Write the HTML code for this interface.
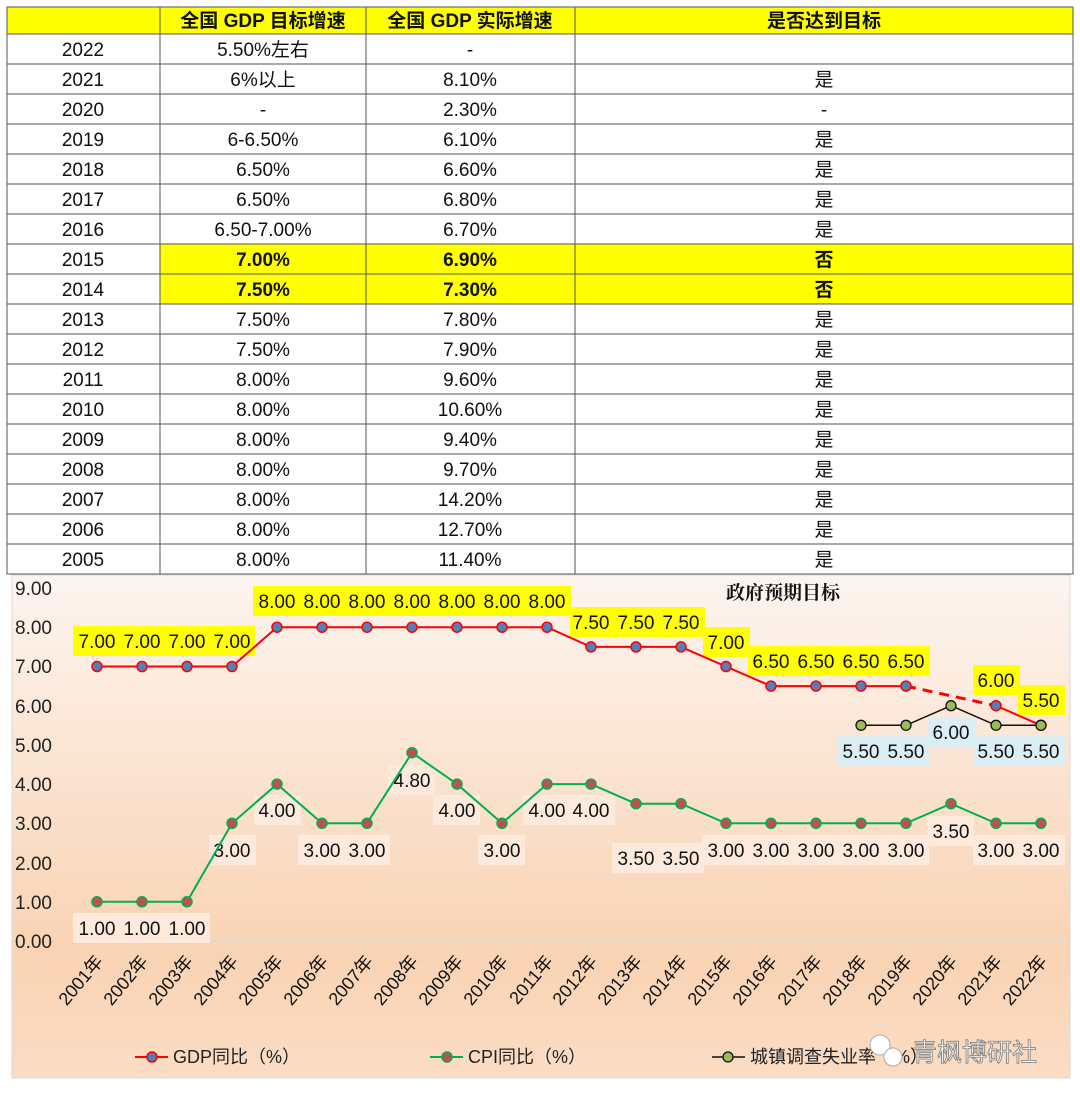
<!DOCTYPE html>
<html><head><meta charset="utf-8"><style>
body{margin:0;background:#fff;}
svg{display:block;font-family:"Liberation Sans","Noto Sans CJK SC",sans-serif;}
</style></head><body>
<svg width="1080" height="1099" viewBox="0 0 1080 1099">
<defs>
<linearGradient id="bg" x1="0" y1="0" x2="0" y2="1">
<stop offset="0" stop-color="#fdf5f0"/><stop offset="0.75" stop-color="#f9d3b3"/><stop offset="1" stop-color="#fbdcc4"/>
</linearGradient>
</defs>
<rect x="7" y="7" width="1066" height="27" fill="#ffff00"/>
<rect x="160" y="244" width="913" height="60" fill="#ffff00"/>
<g stroke="#555" stroke-width="1" fill="none">
<rect x="7" y="7" width="1066" height="567"/>
<line x1="160" y1="7" x2="160" y2="574"/><line x1="366" y1="7" x2="366" y2="574"/><line x1="575" y1="7" x2="575" y2="574"/>
<line x1="7" y1="34" x2="1073" y2="34"/><line x1="7" y1="64" x2="1073" y2="64"/><line x1="7" y1="94" x2="1073" y2="94"/><line x1="7" y1="124" x2="1073" y2="124"/><line x1="7" y1="154" x2="1073" y2="154"/><line x1="7" y1="184" x2="1073" y2="184"/><line x1="7" y1="214" x2="1073" y2="214"/><line x1="7" y1="244" x2="1073" y2="244"/><line x1="7" y1="274" x2="1073" y2="274"/><line x1="7" y1="304" x2="1073" y2="304"/><line x1="7" y1="334" x2="1073" y2="334"/><line x1="7" y1="364" x2="1073" y2="364"/><line x1="7" y1="394" x2="1073" y2="394"/><line x1="7" y1="424" x2="1073" y2="424"/><line x1="7" y1="454" x2="1073" y2="454"/><line x1="7" y1="484" x2="1073" y2="484"/><line x1="7" y1="514" x2="1073" y2="514"/><line x1="7" y1="544" x2="1073" y2="544"/>
</g>
<g font-size="19" fill="#111" text-anchor="middle">
<g font-weight="bold"><text x="263" y="27">全国 GDP 目标增速</text><text x="470" y="27">全国 GDP 实际增速</text><text x="824" y="27">是否达到目标</text></g>
<text x="83" y="56">2022</text><text x="263" y="56">5.50%左右</text><text x="470" y="56">-</text>
<text x="83" y="86">2021</text><text x="263" y="86">6%以上</text><text x="470" y="86">8.10%</text><text x="824" y="86">是</text>
<text x="83" y="116">2020</text><text x="263" y="116">-</text><text x="470" y="116">2.30%</text><text x="824" y="116">-</text>
<text x="83" y="146">2019</text><text x="263" y="146">6-6.50%</text><text x="470" y="146">6.10%</text><text x="824" y="146">是</text>
<text x="83" y="176">2018</text><text x="263" y="176">6.50%</text><text x="470" y="176">6.60%</text><text x="824" y="176">是</text>
<text x="83" y="206">2017</text><text x="263" y="206">6.50%</text><text x="470" y="206">6.80%</text><text x="824" y="206">是</text>
<text x="83" y="236">2016</text><text x="263" y="236">6.50-7.00%</text><text x="470" y="236">6.70%</text><text x="824" y="236">是</text>
<text x="83" y="266">2015</text><text x="263" y="266" font-weight="bold">7.00%</text><text x="470" y="266" font-weight="bold">6.90%</text><text x="824" y="266" font-weight="bold">否</text>
<text x="83" y="296">2014</text><text x="263" y="296" font-weight="bold">7.50%</text><text x="470" y="296" font-weight="bold">7.30%</text><text x="824" y="296" font-weight="bold">否</text>
<text x="83" y="326">2013</text><text x="263" y="326">7.50%</text><text x="470" y="326">7.80%</text><text x="824" y="326">是</text>
<text x="83" y="356">2012</text><text x="263" y="356">7.50%</text><text x="470" y="356">7.90%</text><text x="824" y="356">是</text>
<text x="83" y="386">2011</text><text x="263" y="386">8.00%</text><text x="470" y="386">9.60%</text><text x="824" y="386">是</text>
<text x="83" y="416">2010</text><text x="263" y="416">8.00%</text><text x="470" y="416">10.60%</text><text x="824" y="416">是</text>
<text x="83" y="446">2009</text><text x="263" y="446">8.00%</text><text x="470" y="446">9.40%</text><text x="824" y="446">是</text>
<text x="83" y="476">2008</text><text x="263" y="476">8.00%</text><text x="470" y="476">9.70%</text><text x="824" y="476">是</text>
<text x="83" y="506">2007</text><text x="263" y="506">8.00%</text><text x="470" y="506">14.20%</text><text x="824" y="506">是</text>
<text x="83" y="536">2006</text><text x="263" y="536">8.00%</text><text x="470" y="536">12.70%</text><text x="824" y="536">是</text>
<text x="83" y="566">2005</text><text x="263" y="566">8.00%</text><text x="470" y="566">11.40%</text><text x="824" y="566">是</text>
</g>
<rect x="12" y="575" width="1058" height="503" fill="url(#bg)" stroke="#d9d9d9"/>
<line x1="73" y1="941" x2="1065" y2="941" stroke="#d9d9d9" stroke-width="1.5"/>
<g font-size="19" fill="#222">
<text x="15" y="595">9.00</text><text x="15" y="634">8.00</text><text x="15" y="673">7.00</text><text x="15" y="713">6.00</text><text x="15" y="752">5.00</text><text x="15" y="791">4.00</text><text x="15" y="830">3.00</text><text x="15" y="870">2.00</text><text x="15" y="909">1.00</text><text x="15" y="948">0.00</text>
</g>
<text x="783" y="599" font-size="19" font-weight="bold" text-anchor="middle" fill="#111" font-family="Liberation Serif,'Noto Serif CJK SC',serif">政府预期目标</text>
<g fill="#ffff00">
<rect x="73" y="626" width="182" height="30"/><rect x="253" y="586" width="318" height="30"/><rect x="570" y="607" width="135" height="30"/><rect x="703" y="627" width="47" height="30"/><rect x="748" y="646" width="182" height="30"/><rect x="973" y="665" width="47" height="30"/><rect x="1018" y="685" width="47" height="30"/>
</g>
<g font-size="19" fill="#111" text-anchor="middle">
<text x="97" y="648">7.00</text><text x="142" y="648">7.00</text><text x="187" y="648">7.00</text><text x="232" y="648">7.00</text>
<text x="277" y="608">8.00</text><text x="322" y="608">8.00</text><text x="367" y="608">8.00</text><text x="412" y="608">8.00</text><text x="457" y="608">8.00</text><text x="502" y="608">8.00</text><text x="547" y="608">8.00</text>
<text x="591" y="629">7.50</text><text x="636" y="629">7.50</text><text x="681" y="629">7.50</text><text x="726" y="649">7.00</text>
<text x="771" y="668">6.50</text><text x="816" y="668">6.50</text><text x="861" y="668">6.50</text><text x="906" y="668">6.50</text>
<text x="996" y="687">6.00</text><text x="1041" y="707">5.50</text>
</g>
<g fill="#fdeadd">
<rect x="73" y="913" width="137" height="30"/><rect x="209" y="835" width="47" height="30"/><rect x="254" y="795" width="47" height="30"/><rect x="298" y="835" width="92" height="30"/><rect x="388" y="765" width="47" height="30"/><rect x="433" y="795" width="47" height="30"/><rect x="478" y="835" width="47" height="30"/><rect x="523" y="795" width="92" height="30"/><rect x="612" y="843" width="92" height="30"/><rect x="702" y="835" width="227" height="30"/><rect x="927" y="816" width="47" height="30"/><rect x="973" y="835" width="92" height="30"/>
</g>
<g font-size="19" fill="#111" text-anchor="middle">
<text x="97" y="935">1.00</text><text x="142" y="935">1.00</text><text x="187" y="935">1.00</text><text x="232" y="857">3.00</text><text x="277" y="817">4.00</text><text x="322" y="857">3.00</text><text x="367" y="857">3.00</text><text x="412" y="787">4.80</text><text x="457" y="817">4.00</text><text x="502" y="857">3.00</text><text x="547" y="817">4.00</text><text x="591" y="817">4.00</text><text x="636" y="865">3.50</text><text x="681" y="865">3.50</text><text x="726" y="857">3.00</text><text x="771" y="857">3.00</text><text x="816" y="857">3.00</text><text x="861" y="857">3.00</text><text x="906" y="857">3.00</text><text x="951" y="838">3.50</text><text x="996" y="857">3.00</text><text x="1041" y="857">3.00</text>
</g>
<g fill="#dbeef3"><rect x="838" y="736" width="92" height="30"/><rect x="928" y="717" width="47" height="30"/><rect x="973" y="736" width="92" height="30"/></g>
<g font-size="19" fill="#111" text-anchor="middle"><text x="861" y="758">5.50</text><text x="906" y="758">5.50</text><text x="951" y="739">6.00</text><text x="996" y="758">5.50</text><text x="1041" y="758">5.50</text></g>
<polyline fill="none" stroke="#ff0000" stroke-width="2" points="97,666.5 142,666.5 187,666.5 232,666.5 277,627.2 322,627.2 367,627.2 412,627.2 457,627.2 502,627.2 547,627.2 591,646.9 636,646.9 681,646.9 726,666.5 771,686.1 816,686.1 861,686.1 906,686.1"/>
<line x1="906" y1="686.1" x2="996" y2="705.7" stroke="#ff0000" stroke-width="3" stroke-dasharray="10,7"/>
<line x1="996" y1="705.7" x2="1041" y2="725.3" stroke="#ff0000" stroke-width="2"/>
<polyline fill="none" stroke="#00b050" stroke-width="2" points="97,901.8 142,901.8 187,901.8 232,823.3 277,784.1 322,823.3 367,823.3 412,752.7 457,784.1 502,823.3 547,784.1 591,784.1 636,803.7 681,803.7 726,823.3 771,823.3 816,823.3 861,823.3 906,823.3 951,803.7 996,823.3 1041,823.3"/>
<polyline fill="none" stroke="#111" stroke-width="1.5" points="861,725.3 906,725.3 951,705.7 996,725.3 1041,725.3"/>
<g fill="#4f81bd" stroke="#ff0000" stroke-width="1.5">
<circle cx="97" cy="666.5" r="5"/><circle cx="142" cy="666.5" r="5"/><circle cx="187" cy="666.5" r="5"/><circle cx="232" cy="666.5" r="5"/><circle cx="277" cy="627.2" r="5"/><circle cx="322" cy="627.2" r="5"/><circle cx="367" cy="627.2" r="5"/><circle cx="412" cy="627.2" r="5"/><circle cx="457" cy="627.2" r="5"/><circle cx="502" cy="627.2" r="5"/><circle cx="547" cy="627.2" r="5"/><circle cx="591" cy="646.9" r="5"/><circle cx="636" cy="646.9" r="5"/><circle cx="681" cy="646.9" r="5"/><circle cx="726" cy="666.5" r="5"/><circle cx="771" cy="686.1" r="5"/><circle cx="816" cy="686.1" r="5"/><circle cx="861" cy="686.1" r="5"/><circle cx="906" cy="686.1" r="5"/><circle cx="996" cy="705.7" r="5"/><circle cx="1041" cy="725.3" r="5"/>
</g>
<g fill="#c0504d" stroke="#00b050" stroke-width="1.5">
<circle cx="97" cy="901.8" r="5"/><circle cx="142" cy="901.8" r="5"/><circle cx="187" cy="901.8" r="5"/><circle cx="232" cy="823.3" r="5"/><circle cx="277" cy="784.1" r="5"/><circle cx="322" cy="823.3" r="5"/><circle cx="367" cy="823.3" r="5"/><circle cx="412" cy="752.7" r="5"/><circle cx="457" cy="784.1" r="5"/><circle cx="502" cy="823.3" r="5"/><circle cx="547" cy="784.1" r="5"/><circle cx="591" cy="784.1" r="5"/><circle cx="636" cy="803.7" r="5"/><circle cx="681" cy="803.7" r="5"/><circle cx="726" cy="823.3" r="5"/><circle cx="771" cy="823.3" r="5"/><circle cx="816" cy="823.3" r="5"/><circle cx="861" cy="823.3" r="5"/><circle cx="906" cy="823.3" r="5"/><circle cx="951" cy="803.7" r="5"/><circle cx="996" cy="823.3" r="5"/><circle cx="1041" cy="823.3" r="5"/>
</g>
<g fill="#9bbb59" stroke="#111" stroke-width="1.3">
<circle cx="861" cy="725.3" r="5"/><circle cx="906" cy="725.3" r="5"/><circle cx="951" cy="705.7" r="5"/><circle cx="996" cy="725.3" r="5"/><circle cx="1041" cy="725.3" r="5"/>
</g>
<g font-size="18" fill="#111" text-anchor="end">
<text transform="translate(104,962) rotate(-50)">2001年</text><text transform="translate(149,962) rotate(-50)">2002年</text><text transform="translate(194,962) rotate(-50)">2003年</text><text transform="translate(239,962) rotate(-50)">2004年</text><text transform="translate(284,962) rotate(-50)">2005年</text><text transform="translate(329,962) rotate(-50)">2006年</text><text transform="translate(374,962) rotate(-50)">2007年</text><text transform="translate(419,962) rotate(-50)">2008年</text><text transform="translate(464,962) rotate(-50)">2009年</text><text transform="translate(509,962) rotate(-50)">2010年</text><text transform="translate(554,962) rotate(-50)">2011年</text><text transform="translate(598,962) rotate(-50)">2012年</text><text transform="translate(643,962) rotate(-50)">2013年</text><text transform="translate(688,962) rotate(-50)">2014年</text><text transform="translate(733,962) rotate(-50)">2015年</text><text transform="translate(778,962) rotate(-50)">2016年</text><text transform="translate(823,962) rotate(-50)">2017年</text><text transform="translate(868,962) rotate(-50)">2018年</text><text transform="translate(913,962) rotate(-50)">2019年</text><text transform="translate(958,962) rotate(-50)">2020年</text><text transform="translate(1003,962) rotate(-50)">2021年</text><text transform="translate(1048,962) rotate(-50)">2022年</text>
</g>
<line x1="135" y1="1057" x2="168" y2="1057" stroke="#ff0000" stroke-width="2"/><circle cx="152" cy="1057" r="5" fill="#4f81bd" stroke="#ff0000" stroke-width="1.5"/>
<text x="173" y="1063" font-size="18" fill="#222">GDP同比（%）</text>
<line x1="430" y1="1057" x2="463" y2="1057" stroke="#00b050" stroke-width="2"/><circle cx="447" cy="1057" r="5" fill="#c0504d" stroke="#00b050" stroke-width="1.5"/>
<text x="468" y="1063" font-size="18" fill="#222">CPI同比（%）</text>
<line x1="712" y1="1057" x2="745" y2="1057" stroke="#111" stroke-width="1.5"/><circle cx="728" cy="1057" r="5" fill="#9bbb59" stroke="#111" stroke-width="1.3"/>
<text x="750" y="1063" font-size="18" fill="#222">城镇调查失业率（%）</text>
<circle cx="880" cy="1045" r="10" fill="#fff" stroke="#aaa"/><circle cx="893" cy="1057" r="9" fill="#fff" stroke="#aaa"/>
<text x="912" y="1061" font-size="25" fill="#fff" stroke="#777" stroke-width="0.8">青枫博研社</text>
</svg>
</body></html>
